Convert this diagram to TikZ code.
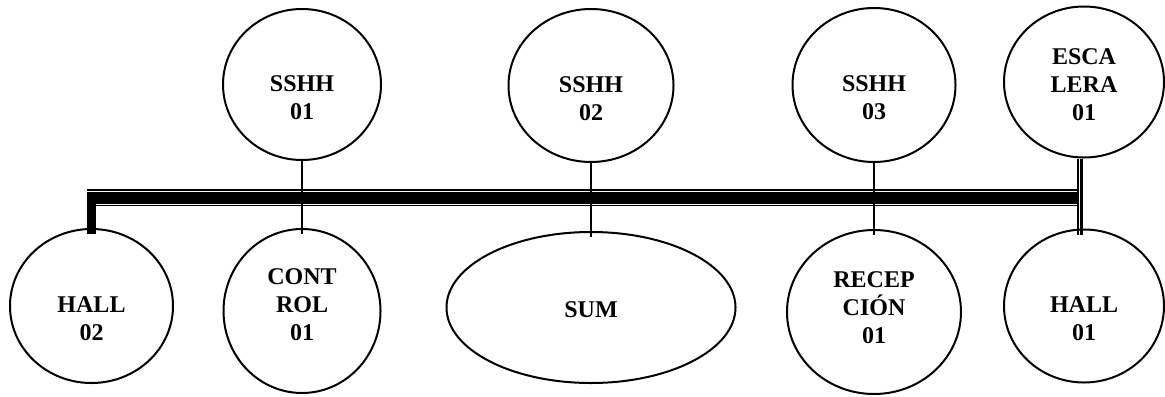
\documentclass[tikz,border=0pt]{standalone}
\usepackage{fontspec}
\setmainfont{Liberation Serif}
\usetikzlibrary{shapes.geometric}

\tikzset{
  room/.style 2 args={draw,ellipse,line width=1pt,inner sep=0pt,minimum width=#1,minimum height=#2},
  lbl/.style={align=center,font=\bfseries\fontsize{12}{14}\selectfont},
  link/.style={line width=1.1pt,shorten >=-3pt}
}

\begin{document}
\begin{tikzpicture}[x=0.5pt,y=-0.5pt]
  \useasboundingbox (0,0) rectangle (1165,396);
  % upper row
  \node[room={79pt}{75.5pt},label={[lbl,yshift=-6.5pt]center:SSHH\\01}] (sshh1) at (302,84.5) {};
  \node[room={82.5pt}{76.5pt},label={[lbl,yshift=-6.5pt]center:SSHH\\02}] (sshh2) at (591,85.5) {};
  \node[room={81.5pt}{77pt},label={[lbl,yshift=-6.5pt]center:SSHH\\03}] (sshh3) at (874,85) {};
  \node[room={80pt}{75.5pt},label={[lbl,yshift=-1.5pt]center:ESCA\\LERA\\01}] (esca) at (1084,82) {};
  % lower row
  \node[room={81.5pt}{77pt},label={[lbl,yshift=-6.25pt]center:HALL\\02}] (hall2) at (91.5,306) {};
  \node[room={78.5pt}{82pt},label={[lbl,yshift=3pt]center:CONT\\ROL\\01}] (control) at (302,311) {};
  \node[room={144.5pt}{75.5pt},label={[lbl,yshift=-1pt]center:SUM}] (sum) at (591,307.5) {};
  \node[room={87pt}{82pt},label={[lbl,yshift=2pt]center:RECEP\\CIÓN\\01}] (recep) at (874,312) {};
  \node[room={80pt}{76.5pt},label={[lbl,yshift=-6.25pt]center:HALL\\01}] (hall1) at (1084,306) {};
  % main corridor
  \coordinate (barL) at (87,198);
  \coordinate (barR) at (1077,198);
  \draw[line width=5.8pt] (barL) -- (barR);
  \draw[line width=0.8pt] ([yshift=4pt]barL) -- ([yshift=4pt]barR);
  \draw[line width=0.7pt] ([yshift=-3.65pt]barL) -- ([yshift=-3.65pt]barR);
  \draw[line width=4.5pt,shorten >=-3pt] ([yshift=-2.9pt]hall2.north |- barL) -- (hall2.north);
  % branches
  \foreach \t/\b in {sshh1/control,sshh2/sum,sshh3/recep}{
    \draw[link] (\t) -- (\b);
  }
  \draw[line width=1pt,shorten >=-3pt] ([xshift=-3.2pt]esca.south) -- ([xshift=-3.2pt]hall1.north);
  \draw[line width=1.35pt,shorten >=-3pt] ([xshift=-1.4pt]esca.south) -- ([xshift=-1.4pt]hall1.north);
\end{tikzpicture}
\end{document}
